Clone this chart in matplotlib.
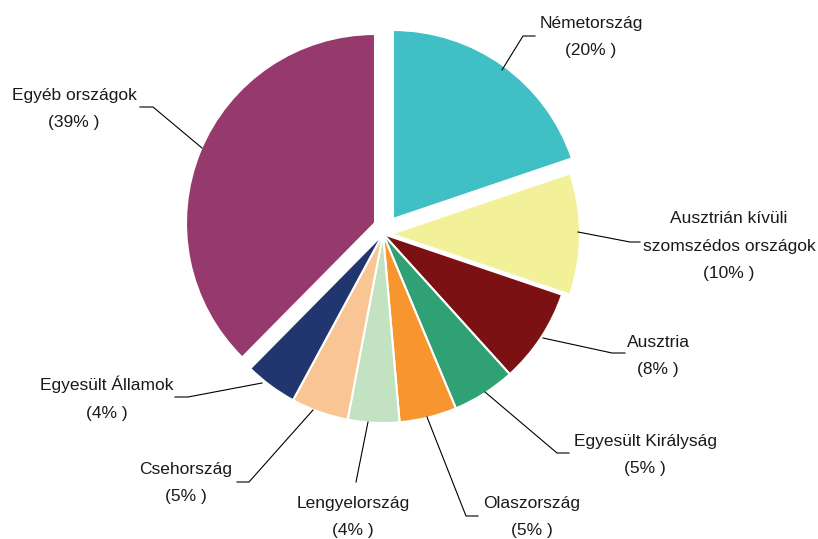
import matplotlib.pyplot as plt

# slice shares (start at top, clockwise)
countries = ['Németország', 'Ausztrián kívüli\nszomszédos országok', 'Ausztria',
             'Egyesült Királyság', 'Olaszország', 'Lengyelország', 'Csehország',
             'Egyesült Államok', 'Egyéb országok']
shares = [19.8, 10.4, 8.1, 5.4, 4.9, 4.4, 4.9, 4.5, 37.6]
pct_labels = ['20', '10', '8', '5', '5', '4', '5', '4', '39']
colors = ['#40BFC5', '#F2F19A', '#7B1113', '#2FA174', '#F7962F',
          '#C3E2C2', '#FAC594', '#21366E', '#963A6D']
# pulled-out slices, offset in px (dx, dy up)
pull = [(10, 15), (8, 0), (0, 0), (0, 0), (0, 0), (0, 0), (0, 0), (0, 0), (-8, 11)]

W, H = 818, 539
fig = plt.figure(figsize=(W / 100, H / 100), dpi=100)
ax = fig.add_axes([0, 0, 1, 1])

cx, cy, R = 383, 234, 189
wedges, _ = ax.pie(shares, colors=colors, startangle=90, counterclock=False,
                   center=(cx, H - cy), radius=R, frame=True,
                   wedgeprops=dict(edgecolor='white', linewidth=1.5))
for w, (dx, dy) in zip(wedges, pull):
    w.set_center((cx + dx, H - cy + dy))
ax.set_xlim(0, W)
ax.set_ylim(0, H)
ax.set_aspect('equal')
ax.axis('off')

# label text centres (px, y from top)
text_pos = [(591, 37), (729, 246), (658, 356), (645, 455), (532, 517),
            (353, 517), (186, 483), (107, 398), (74, 109)]
# leader lines (px, y from top)
leaders = [
    [(502, 70), (523, 36), (535, 36)],
    [(578, 232), (630, 242), (640, 242)],
    [(543, 338), (612, 353), (625, 353)],
    [(485, 392), (557, 453), (569, 453)],
    [(427, 417), (466, 516), (478, 516)],
    [(368, 422), (356, 482)],
    [(313, 410), (249, 482), (237, 482)],
    [(262, 383), (188, 397), (175, 397)],
    [(202, 148), (153, 107), (140, 107)],
]

font = ['Liberation Sans', 'DejaVu Sans']
for name, pct, (tx, ty), pts in zip(countries, pct_labels, text_pos, leaders):
    ax.text(tx, H - ty, f'{name}\n({pct}% )', ha='center', va='center',
            fontsize=12.5, family=font, linespacing=2.05, color='#1a1a1a')
    ax.plot([p[0] for p in pts], [H - p[1] for p in pts], color='black', lw=0.8)

fig.savefig('out.png', dpi=100)
